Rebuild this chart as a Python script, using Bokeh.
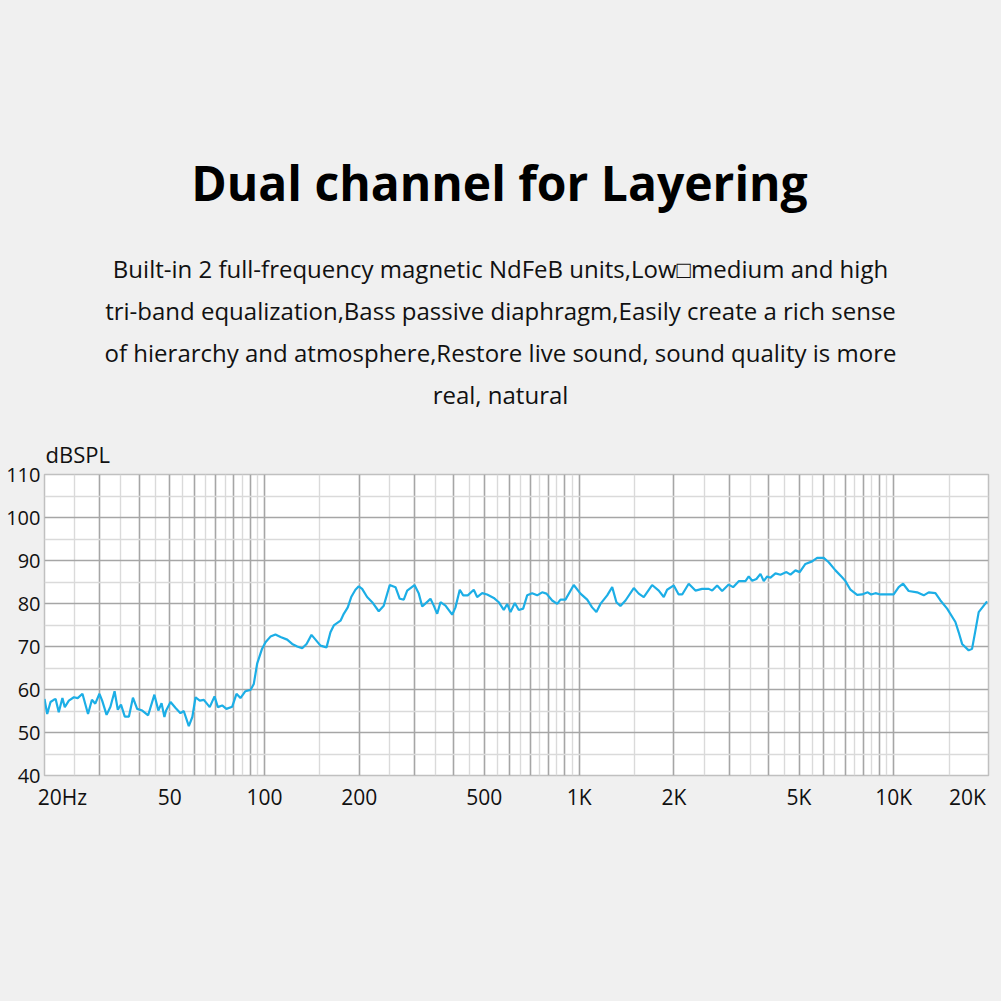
from bokeh.plotting import figure
from bokeh.layouts import column
from bokeh.models import FixedTicker, Range1d, ColumnDataSource, Title
from bokeh.core.properties import value
from bokeh.embed import file_html
from bokeh.resources import INLINE

# ---------------- data ----------------
title_text = "Dual channel for Layering"
body_lines = [
    "Built-in 2 full-frequency magnetic NdFeB units,Low\u25a1medium and high",
    "tri-band equalization,Bass passive diaphragm,Easily create a rich sense",
    "of hierarchy and atmosphere,Restore live sound, sound quality is more",
    "real, natural",
]
y_unit = "dBSPL"
y_ticks = [40, 50, 60, 70, 80, 90, 100, 110]
x_tick_freqs = [20, 50, 100, 200, 500, 1000, 2000, 5000, 10000, 20000]
x_tick_labels = ["20Hz", "50", "100", "200", "500", "1K", "2K", "5K", "10K", "20K"]

freq = [
    20, 20.4, 20.9, 21.4, 21.7, 22.2, 22.8, 23.2, 23.9, 24.8, 25.5, 26.4, 27.5, 28.3,
    29.0, 29.9, 30.5, 31.5, 32.4, 33.4, 34.2, 35.0, 36.0, 37.1, 38.2, 39.4, 40.9, 42.7,
    44.7, 46.0, 47.1, 48.1, 48.7, 50.3, 52.2, 54.1, 55.4, 57.5, 59.0, 60.4, 62.3, 64.2,
    67.0, 69.4, 71.1, 73.4, 75.7, 79.0, 81.5, 83.9, 87.0, 90.3, 92.5, 94.8, 98.3, 100.8,
    104.5, 108.4, 112.5, 118.1, 122.5, 127.1, 131.8, 136.1, 141.1, 145.3, 150.7, 157.5,
    162.1, 166.1, 174.5, 178.7, 184.0, 188.7, 194.6, 199.4, 204.4, 212.0, 220.0, 230.8,
    239.4, 250.2, 260.9, 269.2, 277.2, 284.2, 299.8, 309.4, 317.2, 330.4, 337.0, 345.2,
    354.0, 362.6, 376.2, 395.0, 404.6, 417.6, 428.2, 442.8, 462.6, 474.2, 492.0, 510.2,
    535.6, 555.4, 576.2, 590.8, 605.2, 624.6, 643.2, 664.0, 683.8, 709.2, 735.8, 763.0,
    787.6, 821.2, 851.8, 872.6, 904.8, 961.6, 1010, 1061, 1100, 1135, 1169, 1228, 1274,
    1314, 1353, 1404, 1492, 1547, 1605, 1706, 1791, 1858, 1904, 1999, 2072, 2126, 2230,
    2342, 2460, 2582, 2648, 2746, 2848, 2988, 3086, 3216, 3378, 3460, 3548, 3660, 3770,
    3862, 3960, 4056, 4208, 4364, 4560, 4696, 4870, 5024, 5238, 5502, 5708, 5990, 6212,
    6526, 6852, 7020, 7282, 7648, 7932, 8264, 8472, 8742, 9068, 9524, 9992, 10366, 10706,
    11152, 11860, 12450, 12914, 13564, 14070, 14776, 15698, 16082, 16486, 17302, 17738,
    18172, 18616, 19794,
]
spl = [
    57.8, 54.3, 57.1, 57.6, 57.8, 54.7, 58.0, 55.9, 57.4, 58.2, 58.0, 59.0, 54.3, 57.6,
    56.7, 59.0, 57.4, 54.1, 56.0, 59.6, 55.3, 56.5, 53.7, 53.7, 58.1, 55.5, 55.1, 54.0,
    58.8, 55.1, 56.8, 53.6, 55.1, 57.1, 55.7, 54.5, 55.0, 51.5, 53.6, 58.2, 57.4, 57.6,
    55.9, 58.4, 55.9, 56.3, 55.5, 56.0, 59.0, 58.0, 59.6, 59.9, 61.3, 66.0, 69.5, 71.0,
    72.3, 72.8, 72.2, 71.6, 70.6, 70.0, 69.6, 70.6, 72.7, 71.6, 70.2, 69.8,
    73.3, 74.9, 76.0, 77.6, 79.1, 81.5, 83.2, 84.0, 83.4, 81.5, 80.3, 78.2,
    79.5, 84.3, 83.8, 81.1, 80.9, 83.0, 84.3, 82.3, 79.3, 80.5, 81.1, 79.5,
    77.6, 80.3, 79.5, 77.4, 79.1, 83.2, 81.9, 81.9, 83.2, 81.5, 82.4, 82.1,
    81.3, 80.3, 78.5, 79.9, 78.0, 80.1, 78.5, 78.8, 81.9, 82.4, 81.9, 82.6,
    82.3, 80.7, 79.9, 80.9, 80.9, 84.3, 82.3, 80.9, 79.1, 78.0, 79.9, 81.9, 83.8,
    80.3, 79.4, 80.7, 83.6, 82.3, 81.5, 84.3, 83.0, 81.5, 83.2, 84.2, 82.1, 82.1, 84.6,
    83.0, 83.4, 83.4, 83.0, 84.2, 82.9, 84.4, 83.8, 85.2, 85.2, 86.3, 85.3, 85.7, 86.9,
    85.2, 86.3, 86.0, 87.0, 86.7, 87.3, 86.7, 87.7, 87.3, 89.2, 89.8, 90.6, 90.6, 89.6,
    87.7, 86.1, 85.2, 83.2, 82.0, 82.1, 82.6, 82.1, 82.4, 82.1, 82.1, 82.1, 83.8, 84.6,
    82.9, 82.6, 81.9, 82.6, 82.4, 80.7, 78.8, 75.7, 73.3, 70.6, 69.1, 69.5,
    73.7, 78.0, 80.5,
]

# ---------------- layout constants ----------------
W = 1001
TOP_H = 430                          # height of the text header canvas
FL, FR, FT, FB = 44, 988, 474, 775   # chart frame edges on the page
MAIN_H = W - TOP_H
BG = "#f0f0f0"
TEXT = "#111111"
FONT = "Open Sans"

# ---------------- header (title and paragraph) ----------------
head = figure(
    width=W, height=TOP_H,
    x_range=Range1d(FL, FR), y_range=Range1d(TOP_H, 0),
    x_axis_location=None, y_axis_location=None,
    output_backend="svg", toolbar_location=None,
    min_border_left=FL, min_border_right=W - FR,
    min_border_top=0, min_border_bottom=0,
)
head.grid.visible = False
head.outline_line_color = None
head.background_fill_color = BG
head.border_fill_color = BG

head.text(x=[499], y=[182], text=[title_text],
          text_align="center", text_baseline="alphabetic",
          text_font=value(FONT), text_font_style="bold",
          text_font_size="48px", text_color="#000000")

body_src = ColumnDataSource(dict(
    x=[500] * len(body_lines),
    y=[268 + 42 * i for i in range(len(body_lines))],
    t=body_lines,
))
head.text(x="x", y="y", text="t", source=body_src,
          text_align="center", text_baseline="alphabetic",
          text_font=value(FONT), text_font_size="24px", text_color=TEXT)

# ---------------- chart ----------------
f_min, f_max = x_tick_freqs[0], x_tick_freqs[-1]

p = figure(
    width=W, height=MAIN_H,
    x_axis_type="log",
    x_range=(f_min, f_max), y_range=(y_ticks[0], y_ticks[-1]),
    output_backend="svg", toolbar_location=None,
    min_border_left=FL, min_border_right=W - FR,
    min_border_top=FT - TOP_H, min_border_bottom=W - FB,
)
p.border_fill_color = BG
p.background_fill_color = "#ffffff"
p.outline_line_color = "#c0c0c0"
p.outline_line_width = 1.5

# unit label above the frame, flush with its left edge
p.add_layout(Title(text=y_unit, align="left", offset=1, standoff=12,
                   text_font=FONT, text_font_style="normal",
                   text_font_size="22px", text_color=TEXT), "above")

dark_x = [m * 10 ** k for k in (1, 2, 3, 4) for m in range(1, 10)]
dark_x = [v for v in dark_x if f_min < v < f_max]
light_x = [(m + 0.5) * 10 ** k for k in (1, 2, 3, 4) for m in range(1, 10)]
light_x = [v for v in light_x if f_min < v < f_max]
dark_y = [v for v in y_ticks if y_ticks[0] < v < y_ticks[-1]]
light_y = [v + 5 for v in y_ticks[:-1]]

# edge labels are nudged inward like in the original artwork
lab_pos = list(x_tick_freqs)
lab_pos[0] = f_min * 10 ** 0.057
lab_pos[-1] = f_max / 10 ** 0.067
p.xaxis.ticker = FixedTicker(ticks=lab_pos, minor_ticks=[])
p.xaxis.major_label_overrides = {pos: lab for pos, lab in zip(lab_pos, x_tick_labels)}
p.yaxis.ticker = FixedTicker(ticks=y_ticks, minor_ticks=[])

for ax in (p.xaxis, p.yaxis):
    ax.axis_line_color = None
    ax.major_tick_line_color = None
    ax.minor_tick_line_color = None
    ax.major_tick_out = 0
    ax.major_tick_in = 0
    ax.major_label_text_font = FONT
    ax.major_label_text_color = TEXT
p.xaxis.major_label_text_font_size = "21px"
p.yaxis.major_label_text_font_size = "20px"
p.xaxis.major_label_standoff = 7
p.yaxis.major_label_standoff = 4

p.xgrid.ticker = FixedTicker(ticks=dark_x, minor_ticks=light_x)
p.xgrid.grid_line_color = "#a6a6a6"
p.xgrid.grid_line_width = 1.6
p.xgrid.minor_grid_line_color = "#dadada"
p.xgrid.minor_grid_line_width = 1.4

p.ygrid.ticker = FixedTicker(ticks=dark_y, minor_ticks=light_y)
p.ygrid.grid_line_color = "#a6a6a6"
p.ygrid.grid_line_width = 1.6
p.ygrid.minor_grid_line_color = "#dadada"
p.ygrid.minor_grid_line_width = 1.4

p.line(freq, spl, line_color="#1caee6", line_width=2.2)

layout = column(head, p, spacing=0, styles={"background-color": BG})
open("out.html", "w").write(file_html(layout, INLINE))
